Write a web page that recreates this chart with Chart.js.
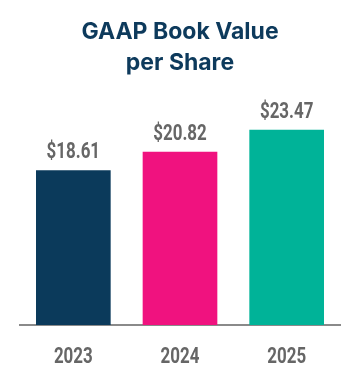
<!DOCTYPE html>
<html>
<head>
<meta charset="utf-8">
<script src="https://cdn.jsdelivr.net/npm/chart.js@4.4.1/dist/chart.umd.min.js"></script>
<style>
  html, body { margin: 0; padding: 0; background: #fff; }
  #wrap { width: 360px; height: 384px; }
</style>
</head>
<body>
<div id="wrap"><canvas id="bookChart" width="360" height="384"></canvas></div>
<script>
const years = ['2023', '2024', '2025'];
const bookValues = [18.61, 20.82, 23.47];
const barColors = ['#0b3a5b', '#f0127f', '#00b398'];
const valueLabels = ['$18.61', '$20.82', '$23.47'];

// condensed-looking text: no narrow face installed, so squeeze Roboto
function drawNarrow(ctx, text, x, y) {
    ctx.save();
    ctx.translate(x, y);
    ctx.scale(0.77, 1);
    ctx.fillText(text, 0, 0);
    ctx.restore();
}

// dollar amounts above bars + year labels under the axis
const labelPlugin = {
    id: 'labels',
    afterDatasetsDraw(chart) {
        const ctx = chart.ctx;
        const meta = chart.getDatasetMeta(0);
        const xScale = chart.scales.x;
        ctx.save();
        ctx.fillStyle = '#666666';
        ctx.font = 'bold 22px Roboto, sans-serif';
        ctx.textAlign = 'center';
        ctx.textBaseline = 'alphabetic';
        meta.data.forEach((bar, i) => {
            drawNarrow(ctx, valueLabels[i], bar.x, bar.y - 12);
        });
        chart.data.labels.forEach((lbl, i) => {
            drawNarrow(ctx, lbl, xScale.getPixelForValue(i), chart.chartArea.bottom + 38);
        });
        ctx.restore();
    }
};

new Chart(document.getElementById('bookChart'), {
    type: 'bar',
    data: {
        labels: years,
        datasets: [{
            data: bookValues,
            backgroundColor: barColors,
            borderWidth: 0,
            categoryPercentage: 1,
            barPercentage: 0.7
        }]
    },
    options: {
        responsive: false,
        animation: false,
        layout: { padding: { left: 20, right: 20, top: 12, bottom: 51 } },
        scales: {
            x: {
                grid: { display: false },
                border: { display: true, color: '#8a8a8a', width: 2 },
                ticks: { display: false }
            },
            y: {
                display: false,
                min: 0,
                max: 28.6
            }
        },
        plugins: {
            legend: { display: false },
            tooltip: { enabled: false },
            title: {
                display: true,
                text: ['GAAP Book Value', 'per Share'],
                color: '#0d3a5c',
                font: { family: '"Inter", "Roboto", sans-serif', size: 23, weight: 'bold', lineHeight: 1.35 },
                padding: { top: 5, bottom: 8 }
            }
        }
    },
    plugins: [labelPlugin]
});
</script>
</body>
</html>
